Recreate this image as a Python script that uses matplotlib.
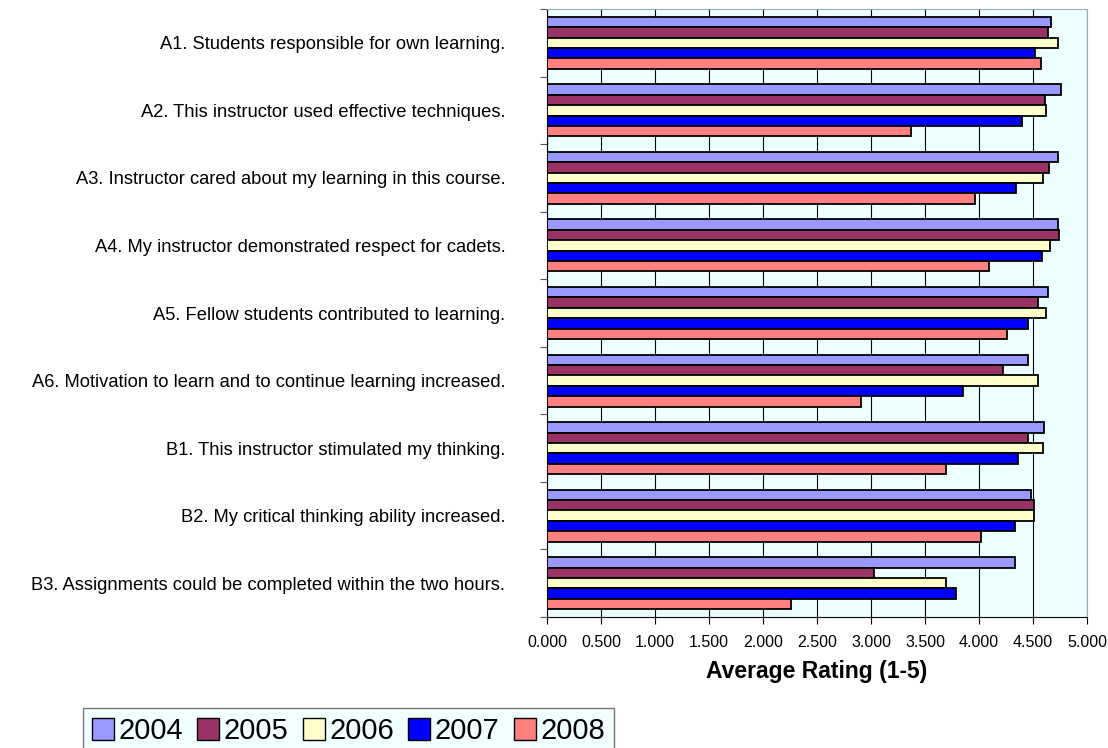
import numpy as np
import matplotlib.pyplot as plt
from matplotlib.patches import Patch

plt.rcParams['font.family'] = ['Liberation Sans', 'DejaVu Sans']

# Preguntas de la encuesta
categories = [
    "A1. Students responsible for own learning.",
    "A2. This instructor used effective techniques.",
    "A3. Instructor cared about my learning in this course.",
    "A4. My instructor demonstrated respect for cadets.",
    "A5. Fellow students contributed to learning.",
    "A6. Motivation to learn and to continue learning increased.",
    "B1. This instructor stimulated my thinking.",
    "B2. My critical thinking ability increased.",
    "B3. Assignments could be completed within the two hours.",
]
years = ["2004", "2005", "2006", "2007", "2008"]

# Promedios por año
r2004 = [4.67, 4.76, 4.73, 4.73, 4.64, 4.45, 4.60, 4.48, 4.33]
r2005 = [4.64, 4.61, 4.65, 4.74, 4.55, 4.22, 4.45, 4.51, 3.03]
r2006 = [4.73, 4.62, 4.59, 4.66, 4.62, 4.55, 4.59, 4.51, 3.69]
r2007 = [4.52, 4.40, 4.34, 4.58, 4.45, 3.85, 4.36, 4.33, 3.79]
r2008 = [4.57, 3.37, 3.96, 4.09, 4.26, 2.91, 3.69, 4.02, 2.26]

colors = ["#9999FF", "#993366", "#FFFFCC", "#0000FF", "#FF8080"]

fig = plt.figure(figsize=(11.08, 7.48), dpi=100)
ax = fig.add_axes([547 / 1108, 1 - 617 / 748, 540 / 1108, 608 / 748])
ax.set_facecolor("#EEFFFF")

series = [r2004, r2005, r2006, r2007, r2008]
y = np.arange(len(categories))
h = 0.154
offsets = (np.arange(5) - 2) * h
for vals, off, c, yr in zip(series, offsets, colors, years):
    ax.barh(y + off, vals, height=h, color=c, edgecolor="black", linewidth=1.3,
            label=yr, zorder=3)

ax.set_xlim(0, 5)
ax.set_ylim(len(categories) - 0.5, -0.5)
ax.set_xticks(np.arange(0, 5.01, 0.5))
ax.set_xticklabels([f"{v:.3f}" for v in np.arange(0, 5.01, 0.5)], fontsize=11.5)
ax.grid(axis="x", color="black", linewidth=0.8, zorder=1)
ax.tick_params(axis="x", length=5, width=0.8, color="black", pad=8)

ax.set_yticks(y)
ax.set_yticklabels(categories, fontsize=13.2)
ax.tick_params(axis="y", which="major", length=0, pad=30)
ax.set_yticks(np.arange(-0.5, len(categories)), minor=True)
ax.tick_params(axis="y", which="minor", length=5, width=0.8, color="#555555")

for s in ["top", "right"]:
    ax.spines[s].set_color("#99AABB")
ax.spines["left"].set_color("black")
ax.spines["bottom"].set_color("black")

ax.set_xlabel("Average Rating (1-5)", fontsize=16.5, fontweight="bold", labelpad=7)

handles = [Patch(facecolor=c, edgecolor="black", linewidth=1.0) for c in colors]
leg = fig.legend(handles, years, loc="lower left", bbox_to_anchor=(83 / 1108, -0.008),
                 ncol=5, fontsize=21, frameon=True, fancybox=False,
                 handlelength=0.75, handleheight=0.75, handletextpad=0.15,
                 columnspacing=0.5, borderpad=0.3, borderaxespad=0)
leg.get_frame().set_facecolor("#EEFFFF")
leg.get_frame().set_edgecolor("#555555")
leg.get_frame().set_linewidth(1.0)

fig.savefig("out.png", dpi=100)
